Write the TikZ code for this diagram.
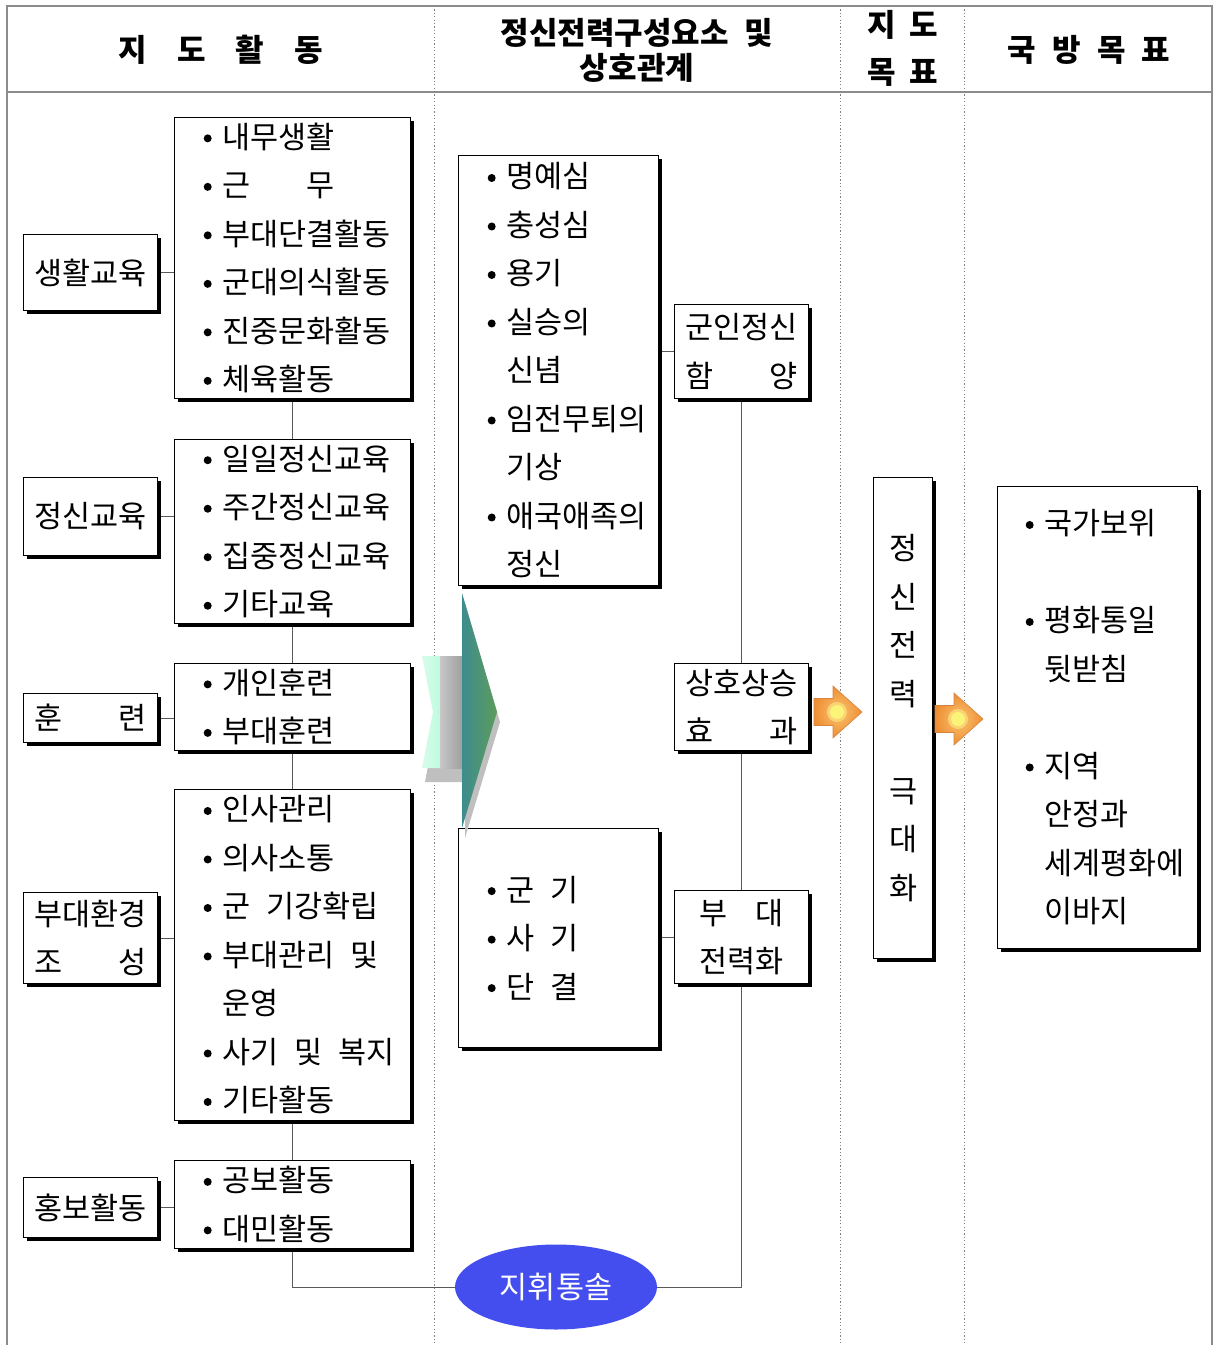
\documentclass[tikz,border=0pt]{standalone}
\usepackage{fontspec}
\setmainfont{Noto Sans CJK KR}
\usetikzlibrary{shapes.geometric,shadows,backgrounds}
\newcommand\kf{\fontsize{30.5}{48.5}\selectfont}
\newcommand\gp{\hspace{16pt}}
\newcommand\blt{\makebox[19pt][l]{\hspace{0.5pt}\tikz[baseline=-10pt]\fill (0,0) circle (4pt);}}
\newcommand\ind{\makebox[19pt]{}}
\newcommand\js[2]{\makebox[#1][s]{#2}}
\definecolor{ellblue}{RGB}{68,78,238}
\definecolor{mint}{RGB}{190,250,222}
\definecolor{teal1}{RGB}{62,140,142}
\definecolor{green1}{RGB}{92,156,92}
\definecolor{orin}{RGB}{250,196,112}
\definecolor{orout}{RGB}{238,142,52}
\definecolor{oredge}{RGB}{214,132,60}
\definecolor{ylw}{RGB}{250,245,120}
\tikzset{
  oarr/.pic={
    \shadedraw[draw=oredge, line width=0.6pt, inner color=orin, outer color=orout]
      (0,-13.5) -- (19,-13.5) -- (19,-26) -- (48,0) -- (19,26) -- (19,13.5) -- (0,13.5) -- cycle;
    \fill[orin!70!ylw] (23,0) circle (10pt);
    \fill[ylw] (23,0) circle (7pt);
  }
}
\begin{document}
\begin{tikzpicture}[x=1pt,y=-1pt,
  bx/.style={draw=black, line width=1.1pt, fill=white, inner sep=0pt, font=\kf, align=center,
    general shadow={fill=black, shadow xshift=3.5pt, shadow yshift=-3.5pt}},
  txt/.style={font=\kf, align=left, inner sep=0pt, anchor=west},
  hd/.style={font=\fontsize{31}{35}\selectfont\bfseries, align=center, inner sep=0pt},
  ln/.style={draw=black!65, line width=1pt},
  frm/.style={draw=black!45, line width=1.6pt},
  sep/.style={draw=black!50, line width=0.9pt, dash pattern=on 1.2pt off 2.2pt}]

\useasboundingbox (0,0) rectangle (1214,1345);

% header
\node[hd] (h1) at (221,50) {지\hspace{30pt}도\hspace{30pt}활\hspace{30pt}동};
\node[hd] (h2) at (637,50) {정신전력구성요소\hspace{16pt}및\\상호관계};
\node[hd, font=\fontsize{31}{47}\selectfont\bfseries] (h3) at (903,48) {지\hspace{14pt}도\\목\hspace{14pt}표};
\node[hd] (h4) at (1089,50) {국\hspace{16pt}방\hspace{16pt}목\hspace{16pt}표};

% left categories
\node[bx, minimum width=134pt, minimum height=76pt, anchor=north west] (c1) at (23,234) {생활교육};
\node[bx, minimum width=134pt, minimum height=78pt, anchor=north west] (c2) at (23,477) {정신교육};
\node[bx, minimum width=134pt, minimum height=49pt, anchor=north west] (c3) at (23,693) {\js{112pt}{훈\hfill 련}};
\node[bx, minimum width=134pt, minimum height=91pt, anchor=north west] (c4) at (23,892) {부대환경\\\js{112pt}{조\hfill 성}};
\node[bx, minimum width=134pt, minimum height=60pt, anchor=north west] (c5) at (23,1177) {홍보활동};

% item boxes
\node[bx, minimum width=236pt, minimum height=281pt, anchor=north west] (i1) at (174,117) {};
\node[bx, minimum width=236pt, minimum height=184pt, anchor=north west] (i2) at (174,439) {};
\node[bx, minimum width=236pt, minimum height=87pt, anchor=north west] (i3) at (174,663) {};
\node[bx, minimum width=236pt, minimum height=331pt, anchor=north west] (i4) at (174,789) {};
\node[bx, minimum width=236pt, minimum height=88pt, anchor=north west] (i5) at (174,1160) {};

\node[txt] (t1) at ([xshift=29pt]i1.west) {\blt 내무생활\\\blt \js{112pt}{근\hfill 무}\\\blt 부대단결활동\\\blt 군대의식활동\\\blt 진중문화활동\\\blt 체육활동};
\node[txt] (t2) at ([xshift=29pt]i2.west) {\blt 일일정신교육\\\blt 주간정신교육\\\blt 집중정신교육\\\blt 기타교육};
\node[txt] (t3) at ([xshift=29pt]i3.west) {\blt 개인훈련\\\blt 부대훈련};
\node[txt] (t4) at ([xshift=29pt]i4.west) {\blt 인사관리\\\blt 의사소통\\\blt 군\gp 기강확립\\\blt 부대관리\gp 및\\\ind 운영\\\blt 사기\gp 및\gp 복지\\\blt 기타활동};
\node[txt] (t5) at ([xshift=29pt]i5.west) {\blt 공보활동\\\blt 대민활동};

% middle
\node[bx, minimum width=200pt, minimum height=430pt, anchor=north west] (m1) at (458,155) {};
\node[bx, minimum width=200pt, minimum height=219pt, anchor=north west] (m2) at (458,828) {};
\node[txt] (tm1) at ([xshift=29pt]m1.west) {\blt 명예심\\\blt 충성심\\\blt 용기\\\blt 실승의\\\ind 신념\\\blt 임전무퇴의\\\ind 기상\\\blt 애국애족의\\\ind 정신};
\node[txt] (tm2) at ([xshift=29pt]m2.west) {\blt 군\gp 기\\\blt 사\gp 기\\\blt 단\gp 결};

\node[bx, minimum width=134pt, minimum height=94pt, anchor=north west] (r1) at (674,304) {군인정신\\\js{112pt}{함\hfill 양}};
\node[bx, minimum width=134pt, minimum height=87pt, anchor=north west] (r2) at (674,663) {상호상승\\\js{112pt}{효\hfill 과}};
\node[bx, minimum width=134pt, minimum height=93pt, anchor=north west] (r3) at (674,890) {\js{84pt}{부\hfill 대}\\전력화};

% goal column
\node[bx, minimum width=59pt, minimum height=481pt, anchor=north west] (v) at (873,477) {정\\신\\전\\력\\[48.5pt]극\\대\\화};
\node[bx, minimum width=200pt, minimum height=462pt, anchor=north west] (g) at (997,486) {};
\node[txt] (tg) at ([xshift=28pt]g.west) {\blt 국가보위\\[48.5pt]\blt 평화통일\\\ind 뒷받침\\[48.5pt]\blt 지역\\\ind 안정과\\\ind 세계평화에\\\ind 이바지};

% ellipse
\node[ellipse, fill=ellblue, minimum width=202pt, minimum height=85pt, inner sep=0pt, text=white, font=\kf] (e) at (556,1287) {지휘통솔};

% background: frame, separators, connectors
\begin{pgfonlayer}{background}
  \draw[frm] (7,1345) -- (7,6) -- (1212,6) -- (1212,1345);
  \draw[frm, line width=2pt] (7,92) -- (1212,92);
  \foreach \xx in {434,840,964} \draw[sep] (\xx,6) -- (\xx,1345);
  \draw[ln] (c1.east) -- (c1.east -| i1.west);
  \draw[ln] (c2.east) -- (c2.east -| i2.west);
  \draw[ln] (c3.east) -- (c3.east -| i3.west);
  \draw[ln] (c4.east) -- (c4.east -| i4.west);
  \draw[ln] (c5.east) -- (c5.east -| i5.west);
  \draw[ln] (i1.south) -- (i2.north);
  \draw[ln] (i2.south) -- (i3.north);
  \draw[ln] (i3.south) -- (i4.north);
  \draw[ln] (i4.south) -- (i5.north);
  \draw[ln] (i5.south) |- (e.west);
  \draw[ln] (r1.west) -- (r1.west -| m1.east);
  \draw[ln] (r3.west) -- (r3.west -| m2.east);
  \draw[ln] (r1.south) -- (r2.north);
  \draw[ln] (r2.south) -- (r3.north);
  \draw[ln] (r3.south) |- (e.east);
\end{pgfonlayer}

% big arrow
\fill[black!25] (425,668) -- (465,668) -- (465,603) -- (500,722) -- (465,838) -- (465,782) -- (425,782) -- (436,724) -- cycle;
\shade[left color=white!40!mint, right color=mint] (422,656) -- (441,656) -- (441,768) -- (422,768) -- (433,712) -- cycle;
\shade[left color=black!22, right color=black!38] (440,656) rectangle (462.5,768);
\shade[left color=teal1, right color=green1] (462,593) -- (497,712) -- (462,828) -- cycle;

% orange arrows
\pic at (814,712) {oarr};
\pic at (935,719) {oarr};
\end{tikzpicture}
\end{document}
